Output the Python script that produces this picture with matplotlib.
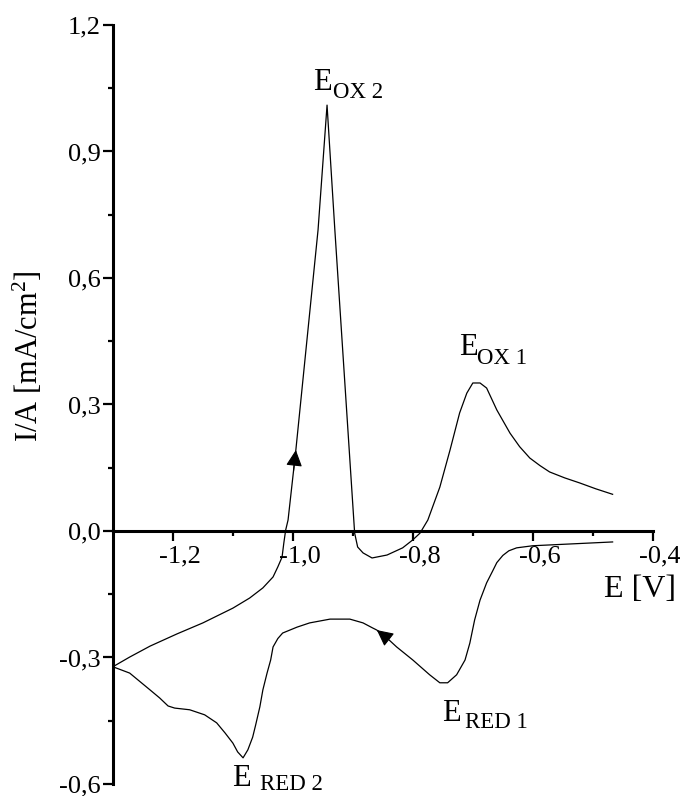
import matplotlib
matplotlib.use("Agg")
import matplotlib.pyplot as plt
from matplotlib.ticker import FixedLocator, FuncFormatter
from matplotlib.transforms import ScaledTranslation

plt.rcParams['font.family'] = ['Liberation Serif', 'DejaVu Serif']
plt.rcParams['mathtext.fontset'] = 'custom'
plt.rcParams['mathtext.rm'] = 'Liberation Serif'
plt.rcParams['mathtext.it'] = 'Liberation Serif:italic'

# ---- data: anodic (forward) branch ----
fwd_E = [-1.300, -1.272, -1.238, -1.193, -1.150, -1.100, -1.072, -1.050, -1.033, -1.025,
         -1.018, -1.015, -1.012, -1.008, -0.995, -0.958, -0.943, -0.930, -0.897, -0.892,
         -0.883, -0.868, -0.843, -0.817, -0.800, -0.788, -0.775, -0.755, -0.738, -0.722,
         -0.710, -0.700, -0.688, -0.677, -0.660, -0.638, -0.622, -0.605, -0.588, -0.572,
         -0.547, -0.522, -0.495, -0.467]
fwd_I = [-0.322, -0.299, -0.273, -0.244, -0.218, -0.183, -0.159, -0.135, -0.109, -0.085,
         -0.062, -0.028, 0.002, 0.026, 0.192, 0.714, 1.010, 0.714, -0.005, -0.038,
         -0.052, -0.064, -0.057, -0.040, -0.021, -0.005, 0.026, 0.104, 0.192, 0.280,
         0.327, 0.351, 0.351, 0.339, 0.287, 0.232, 0.200, 0.173, 0.155, 0.140,
         0.126, 0.114, 0.100, 0.087]

# ---- data: cathodic (reverse) branch ----
rev_E = [-0.467, -0.600, -0.627, -0.640, -0.650, -0.660, -0.667, -0.677, -0.688, -0.697,
         -0.705, -0.713, -0.727, -0.742, -0.755, -0.772, -0.800, -0.827, -0.843, -0.860,
         -0.867, -0.883, -0.905, -0.938, -0.972, -0.993, -1.017, -1.025, -1.033, -1.037,
         -1.043, -1.050, -1.055, -1.062, -1.067, -1.075, -1.083, -1.092, -1.100, -1.113,
         -1.127, -1.147, -1.172, -1.197, -1.208, -1.222, -1.238, -1.255, -1.272, -1.300]
rev_I = [-0.026, -0.035, -0.040, -0.047, -0.058, -0.075, -0.095, -0.123, -0.164, -0.211,
         -0.266, -0.306, -0.341, -0.360, -0.360, -0.341, -0.306, -0.275, -0.254, -0.235,
         -0.230, -0.218, -0.209, -0.209, -0.218, -0.228, -0.242, -0.255, -0.275, -0.306,
         -0.337, -0.377, -0.417, -0.460, -0.489, -0.519, -0.538, -0.524, -0.503, -0.479,
         -0.455, -0.436, -0.424, -0.420, -0.415, -0.396, -0.377, -0.357, -0.337, -0.322]

fwd_arrow_idx = 14   # arrow tip on forward branch
rev_arrow_idx = 19   # arrow tip on reverse branch

x_major = [-1.2, -1.0, -0.8, -0.6, -0.4]
x_minor = [-1.1, -0.9, -0.7, -0.5]
y_major = [-0.6, -0.3, 0.0, 0.3, 0.6, 0.9, 1.2]
y_minor = [-0.45, -0.15, 0.15, 0.45, 0.75, 1.05]

peak_labels = [("E", "OX 2", -0.967, 1.046, -0.933, 1.027),
               ("E", "OX 1", -0.723, 0.417, -0.693, 0.396),
               ("E", "RED 1", -0.752, -0.451, -0.713, -0.467),
               ("E", "RED 2", -1.102, -0.604, -1.055, -0.614)]

fig = plt.figure(figsize=(6.8, 7.96), dpi=100)
ax = fig.add_axes([0.166, 0.0151, 0.794, 0.9535])
ax.set_xlim(-1.3, -0.4)
ax.set_ylim(-0.6, 1.2)

ax.plot(fwd_E, fwd_I, color='black', lw=0.9)
ax.plot(rev_E, rev_I, color='black', lw=0.9)

def draw_arrow(xs, ys, i, back):
    tip = (xs[i], ys[i])
    tail = (xs[i] + (xs[back] - xs[i]) * 0.3, ys[i] + (ys[back] - ys[i]) * 0.3)
    ax.annotate('', xy=tip, xytext=tail,
                arrowprops=dict(arrowstyle='-|>', mutation_scale=25, color='black',
                                lw=0.8, shrinkA=0, shrinkB=0))

draw_arrow(fwd_E, fwd_I, fwd_arrow_idx, fwd_arrow_idx - 1)
draw_arrow(rev_E, rev_I, rev_arrow_idx, rev_arrow_idx - 1)

for main, sub, xm, ym, xs_, ys_ in peak_labels:
    ax.text(xm, ym, main, fontsize=22, ha='left', va='baseline', clip_on=False)
    ax.text(xs_, ys_, sub, fontsize=16.5, ha='left', va='baseline', clip_on=False)

# spines
for s in ['top', 'right']:
    ax.spines[s].set_visible(False)
ax.spines['bottom'].set_position(('data', 0))
ax.spines['left'].set_linewidth(2.2)
ax.spines['bottom'].set_linewidth(2.2)

fmt = FuncFormatter(lambda v, p: f"{v:.1f}".replace('.', ',').replace('-0,0', '0,0'))
ax.xaxis.set_major_locator(FixedLocator(x_major))
ax.xaxis.set_minor_locator(FixedLocator(x_minor))
ax.yaxis.set_major_locator(FixedLocator(y_major))
ax.yaxis.set_minor_locator(FixedLocator(y_minor))
ax.xaxis.set_major_formatter(fmt)
ax.yaxis.set_major_formatter(fmt)

ax.tick_params(axis='both', which='major', direction='out', length=7.5, width=1.6,
               labelsize=19, color='black')
ax.tick_params(axis='both', which='minor', direction='out', length=3.5, width=1.6,
               color='black')
ax.tick_params(axis='x', which='major', pad=3)
ax.tick_params(axis='y', which='major', pad=1)

offset = ScaledTranslation(7 / 100, 0, fig.dpi_scale_trans)
for lab in ax.get_xticklabels():
    lab.set_transform(lab.get_transform() + offset)

ax.set_xlabel('E [V]', fontsize=23)
ax.xaxis.set_label_coords(0.976, 0.276)
ax.set_ylabel(r'I/A [mA/cm$^{\mathrm{2}}$]', fontsize=22)
ax.yaxis.set_label_coords(-0.125, 0.564)

fig.savefig('out.png', dpi=100, facecolor='white')
